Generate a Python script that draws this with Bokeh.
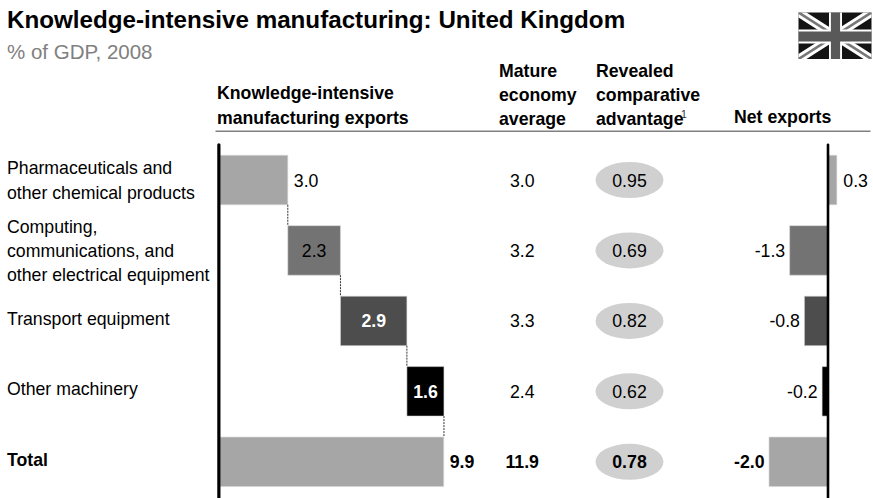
from bokeh.plotting import figure
from bokeh.models import Range1d
from bokeh.core.properties import value
from bokeh.embed import file_html
from bokeh.resources import INLINE

categories = ["Pharmaceuticals and\nother chemical products",
              "Computing,\ncommunications, and\nother electrical equipment",
              "Transport equipment", "Other machinery", "Total"]
exports = [3.0, 2.33, 2.94, 1.64, 9.9]
mature = [3.0, 3.2, 3.3, 2.4, 11.9]
rca = [0.95, 0.69, 0.82, 0.62, 0.78]
net = [0.3, -1.3, -0.8, -0.2, -2.0]
colors = ["#a6a6a6", "#737373", "#4d4d4d", "#000000", "#a6a6a6"]
value_colors = ["#000000", "#000000", "#ffffff", "#ffffff", "#000000"]
headers = [("Knowledge-intensive\nmanufacturing exports", 216.5, 105),
           ("Mature\neconomy\naverage", 498.5, 94.5),
           ("Revealed\ncomparative\nadvantage", 595.5, 94.5),
           ("Net exports", 733.5, 116)]

W, H = 873, 498
FONT = "Liberation Sans"
BODY = 17.7
PX_EXP = 22.6
PX_NET = 29.5
ZERO_EXP = 219.5
ZERO_NET = 827.5
PITCH = 70.45
ROW0 = 179.5
ROW_H = 49.5

p = figure(width=W, height=H, output_backend="svg", toolbar_location=None,
           x_axis_location=None, y_axis_location=None, min_border=0,
           outline_line_color=None, background_fill_color="white",
           x_range=Range1d(-ZERO_EXP / PX_EXP, (W - ZERO_EXP) / PX_EXP),
           y_range=Range1d((H - ROW0) / PITCH, -ROW0 / PITCH))
p.grid.visible = False
p.extra_x_ranges = {"net": Range1d(-ZERO_NET / PX_NET, (W - ZERO_NET) / PX_NET),
                    "px": Range1d(0, W)}
p.extra_y_ranges = {"px": Range1d(H, 0)}


def ptext(x, y, s, size=BODY, bold=False, color="#000000", align="left", baseline="middle"):
    p.text([x], [y], text=[s], x_range_name="px", y_range_name="px",
           text_font=value(FONT), text_font_size=f"{size}px",
           text_font_style="bold" if bold else "normal",
           text_color=color, text_align=align, text_baseline=baseline,
           text_line_height=1.22)


rows = list(range(len(categories)))
half = ROW_H / 2 / PITCH

# waterfall bars
left = 0.0
lefts, rights = [], []
for v in exports[:-1]:
    lefts.append(left)
    rights.append(left + v)
    left += v
lefts.append(0.0)
rights.append(exports[-1])
p.quad(left=lefts, right=rights, top=[r - half for r in rows], bottom=[r + half for r in rows],
       fill_color=colors, line_color="#d9d9d9", line_width=0.6)
p.segment(rights[:4], [r + half for r in rows[:4]], rights[:4], [r + 1 - half for r in rows[:4]],
          line_color="#333333", line_width=1, line_dash="2 1")

# net exports bars
p.quad(left=[min(v, 0) for v in net], right=[max(v, 0) for v in net],
       top=[r - half for r in rows], bottom=[r + half for r in rows],
       fill_color=colors, line_color="#d9d9d9", line_width=0.6, x_range_name="net")

# baselines
p.line([-0.05, -0.05], [-0.5, 4.6], line_color="#000000", line_width=3.2, line_cap="round")
p.line([0, 0], [-0.5, 4.6], line_color="#000000", line_width=2.6, line_cap="round", x_range_name="net")

# header rule
p.line([215, 870], [130.7, 130.7], x_range_name="px", y_range_name="px", line_color="#808080", line_width=1.6)

# ellipses
p.ellipse(x=[629] * 5, y=[ROW0 + r * PITCH for r in rows], width=68, height=36,
          fill_color="#d0d0d0", line_color=None, x_range_name="px", y_range_name="px")

# titles
ptext(6.5, 18.5, "Knowledge-intensive manufacturing: United Kingdom", size=24.2, bold=True)
ptext(6.5, 50.5, "% of GDP, 2008", size=20.5, color="#808080")

for s, x, y in headers:
    ptext(x, y, s, bold=True)
ptext(680.5, 113, "1", size=10.5, color="#333333")

for i in rows:
    yc = ROW0 + i * PITCH
    b = i == 4
    ptext(6.5, yc + (0.5 if i < 2 else -2), categories[i], bold=b)
    ptext(521.7, yc, f"{mature[i]:.1f}", bold=b, align="center")
    ptext(629, yc, f"{rca[i]:.2f}", bold=b, align="center")
    if i in (0, 4):
        ptext(ZERO_EXP + rights[i] * PX_EXP + 6, yc, f"{exports[i]:.1f}", bold=b)
    else:
        ptext(ZERO_EXP + (lefts[i] + rights[i]) / 2 * PX_EXP, yc, f"{exports[i]:.1f}",
              bold=i >= 2, color=value_colors[i], align="center")
    if net[i] > 0:
        ptext(ZERO_NET + net[i] * PX_NET + 6.5, yc, f"{net[i]:.1f}", bold=b)
    else:
        ptext(ZERO_NET + net[i] * PX_NET - 4.5, yc, f"{net[i]:.1f}", bold=b, align="right")

# flag
x0, x1, y0, y1 = 798, 871, 12, 58.5
xm, ym = 835, 36
p.patch([x0, x1, x1, x0], [y0, y0, y1, y1], x_range_name="px", y_range_name="px",
        fill_color="#141414", line_color=None)


def diag(d, e, color):
    xs = [[x0, x0 + d, x1, x1, x1 - d, x0], [x1, x1 - d, x0, x0, x0 + d, x1]]
    ys = [[y0, y0, y1 - e, y1, y1, y0 + e], [y0, y0, y1 - e, y1, y1, y0 + e]]
    p.patches(xs, ys, x_range_name="px", y_range_name="px", fill_color=color, line_color=None)


diag(8, 5, "#ffffff")
diag(2.5, 1.6, "#777777")
p.quad(left=[xm - 6.5, x0], right=[xm + 6.5, x1], top=[y0, ym - 7], bottom=[y1, ym + 7],
       x_range_name="px", y_range_name="px", fill_color="#ffffff", line_color=None)
p.quad(left=[xm - 4.6, x0], right=[xm + 4.6, x1], top=[y0, ym - 5], bottom=[y1, ym + 5],
       x_range_name="px", y_range_name="px", fill_color="#595959", line_color=None)

open("out.html", "w").write(file_html(p, INLINE))
